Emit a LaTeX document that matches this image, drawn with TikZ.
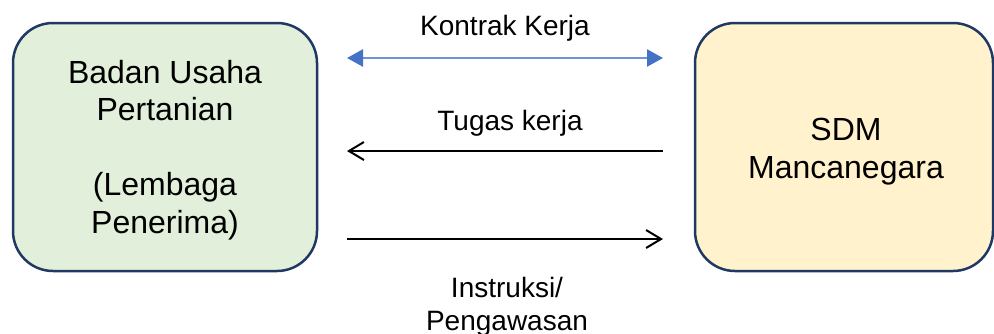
\documentclass[tikz,border=0pt]{standalone}
\usepackage{fontspec}
\setmainfont{Liberation Sans}
\usetikzlibrary{arrows.meta}
\definecolor{navy}{HTML}{1F3864}
\definecolor{greenfill}{HTML}{E2EFDA}
\definecolor{yellowfill}{HTML}{FFF2CC}
\definecolor{arrowblue}{HTML}{4472C4}
\definecolor{lineblue}{HTML}{6F93D3}
\begin{document}
\begin{tikzpicture}[x=1pt,y=-1pt,
  box/.style={draw=navy,line width=2.5pt,rounded corners=40pt,minimum width=304pt,minimum height=248pt,inner sep=0pt},
  boxtext/.style={align=center,font=\fontsize{32}{37.5}\selectfont,inner sep=0pt},
  lbl/.style={align=center,font=\fontsize{28}{33}\selectfont,inner sep=0pt},
  blk/.style={line width=2pt,-{Straight Barb[length=15pt,width=18pt,line width=2pt]}},
  blu/.style={draw=lineblue,line width=2.5pt,{Triangle[length=16pt,width=17pt,fill=arrowblue,color=arrowblue]}-{Triangle[length=16pt,width=17pt,fill=arrowblue,color=arrowblue]}}
]
\useasboundingbox (0,0) rectangle (994,333);
\node[box,fill=greenfill] (L) at (165,147) {};
\node[box,fill=yellowfill,minimum width=298pt] (R) at (844,147) {};
\node[boxtext,anchor=base] (Lt) at (165,233) {Badan Usaha\\Pertanian\\[37.5pt](Lembaga\\Penerima)};
\node[boxtext,anchor=base,font=\fontsize{32}{38}\selectfont] (Rt) at (846,178) {SDM\\Mancanegara};
\coordinate (k1) at (347,58);
\coordinate (k2) at (663,58);
\coordinate (t1) at (663,151);
\coordinate (t2) at (347,151);
\coordinate (i1) at (347,239);
\coordinate (i2) at (663,239);
\draw[blu] (k1) -- (k2);
\draw[blk] (t1) -- (t2);
\draw[blk] (i1) -- (i2);
\node[lbl,anchor=base] (kl) at (505,35) {Kontrak Kerja};
\node[lbl,anchor=base] (tl) at (510,130) {Tugas kerja};
\node[lbl,anchor=base] (il) at (507,330) {Instruksi/\\Pengawasan};
\end{tikzpicture}
\end{document}
